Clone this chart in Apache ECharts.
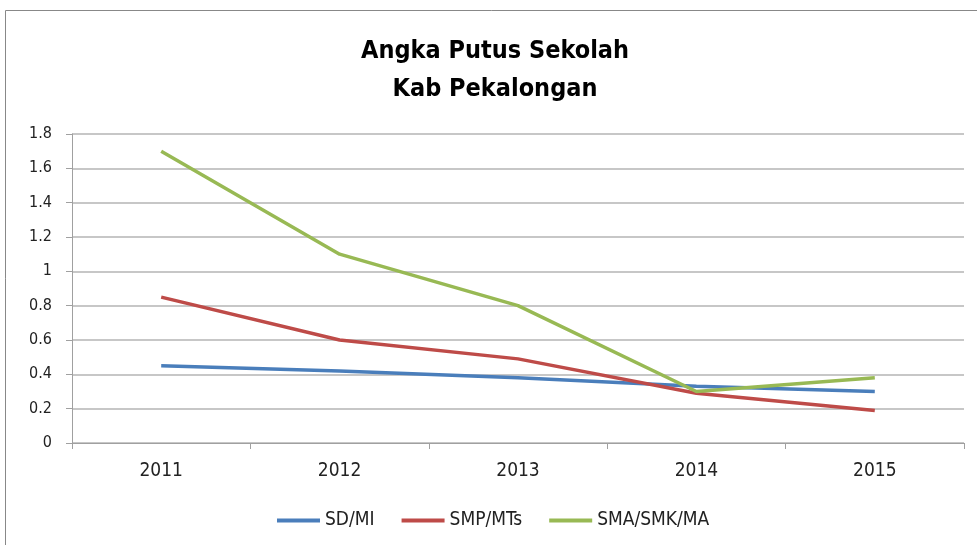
<!DOCTYPE html>
<html>
<head>
<meta charset="utf-8">
<script src="https://cdn.jsdelivr.net/npm/echarts@6/dist/echarts.min.js"></script>
<style>
    html, body { margin: 0; padding: 0; background: #fff; }
    #chart { width: 977px; height: 545px; }
</style>
</head>
<body>
<div id="chart"></div>
<script>
// data
var years = ['2011', '2012', '2013', '2014', '2015'];
var sdMi = [0.45, 0.42, 0.38, 0.33, 0.30];
var smpMts = [0.85, 0.60, 0.49, 0.29, 0.19];
var smaSmkMa = [1.70, 1.10, 0.80, 0.30, 0.38];

var font = '"DejaVu Sans Condensed", "Liberation Sans Narrow", "Liberation Sans", sans-serif';

var chart = echarts.init(document.getElementById('chart'));
chart.setOption({
    animation: false,
    textStyle: { fontFamily: font },
    title: {
        text: 'Angka Putus Sekolah\nKab Pekalongan',
        left: 490,
        top: 27,
        textAlign: 'center',
        textStyle: {
            fontFamily: font,
            fontSize: 25,
            fontWeight: 'bold',
            color: '#000',
            lineHeight: 38
        }
    },
    graphic: [{
        type: 'rect',
        shape: { x: 5.5, y: 10.5, width: 1000, height: 600 },
        style: { fill: 'none', stroke: '#888', lineWidth: 1 },
        silent: true
    }],
    legend: {
        top: 506,
        left: 272,
        icon: 'rect',
        itemWidth: 43,
        itemHeight: 4,
        itemGap: 27,
        textStyle: { fontFamily: font, fontSize: 19, color: '#222' },
        data: ['SD/MI', 'SMP/MTs', 'SMA/SMK/MA']
    },
    grid: { left: 72, right: 13, top: 134, bottom: 102 },
    xAxis: {
        type: 'category',
        data: years,
        boundaryGap: true,
        axisLine: { lineStyle: { color: '#a0a0a0' } },
        axisTick: { show: true, length: 6, lineStyle: { color: '#a0a0a0' } },
        axisLabel: { fontSize: 19, color: '#222', margin: 19, fontFamily: font }
    },
    yAxis: {
        type: 'value',
        min: 0,
        max: 1.8,
        interval: 0.2,
        axisLine: { show: true, lineStyle: { color: '#a0a0a0' } },
        axisTick: { show: true, length: 6, lineStyle: { color: '#a0a0a0' } },
        splitLine: { lineStyle: { color: '#b4b4b4', width: 1.5 } },
        axisLabel: {
            fontSize: 16, color: '#222', margin: 20, fontFamily: font,
            formatter: function (v) { return String(Math.round(v * 10) / 10); }
        }
    },
    series: [
        {
            name: 'SD/MI', type: 'line', data: sdMi, symbol: 'none',
            itemStyle: { color: '#4a7ebb' },
            lineStyle: { color: '#4a7ebb', width: 3.5 }
        },
        {
            name: 'SMP/MTs', type: 'line', data: smpMts, symbol: 'none',
            itemStyle: { color: '#be4b48' },
            lineStyle: { color: '#be4b48', width: 3.5 }
        },
        {
            name: 'SMA/SMK/MA', type: 'line', data: smaSmkMa, symbol: 'none',
            itemStyle: { color: '#98b954' },
            lineStyle: { color: '#98b954', width: 3.5 }
        }
    ]
});
</script>
</body>
</html>
